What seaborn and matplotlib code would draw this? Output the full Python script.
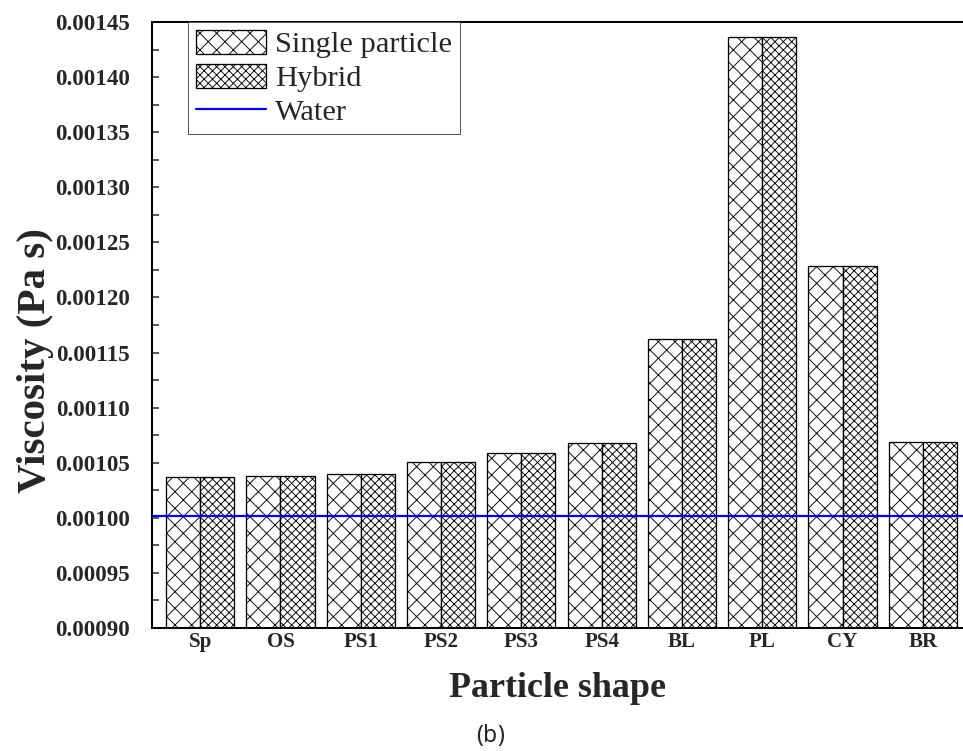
import matplotlib
matplotlib.use("Agg")
import matplotlib.pyplot as plt
from matplotlib.patches import Patch
from matplotlib.lines import Line2D
from matplotlib.ticker import MultipleLocator, FormatStrFormatter
from matplotlib.offsetbox import TextArea, HPacker, AnnotationBbox
import seaborn as sns
import pandas as pd

# Particle shapes and nanofluid viscosity (Pa s)
shapes = ["Sp", "OS", "PS1", "PS2", "PS3", "PS4", "BL", "PL", "CY", "BR"]
single_particle = [0.001037, 0.001038, 0.001040, 0.001051, 0.001059,
                   0.001068, 0.001162, 0.001436, 0.001229, 0.001069]
hybrid = [0.001037, 0.001038, 0.001040, 0.001051, 0.001059,
          0.001068, 0.001162, 0.001436, 0.001229, 0.001069]
water = 0.001002
series = ["Single particle", "Hybrid"]

df = pd.DataFrame({
    "shape": shapes * 2,
    "viscosity": single_particle + hybrid,
    "type": [series[0]] * len(shapes) + [series[1]] * len(shapes),
})

DPI = 50


def px(v):
    """Convert a size in pixels to points at the figure dpi."""
    return v * 72 / DPI


sns.set_theme(style="white")
plt.rcParams["font.family"] = ["Liberation Serif", "DejaVu Serif"]
plt.rcParams["hatch.linewidth"] = px(0.9)
plt.rcParams["hatch.color"] = "#222222"

fig = plt.figure(figsize=(963 / DPI, 751 / DPI), dpi=DPI)
ax = fig.add_axes([152 / 963, 1 - 628 / 751, 811 / 963, 606 / 751])

sns.barplot(data=df, x="shape", y="viscosity", hue="type", order=shapes,
            hue_order=series, width=0.85, ax=ax, legend=False,
            palette=["white", "white"], edgecolor="black", linewidth=px(1.3),
            saturation=1)

hatches = ["x", "xx"]
for cont, h in zip(ax.containers, hatches):
    for bar in cont:
        bar.set_hatch(h)
        bar.set_facecolor("white")
        bar.set_edgecolor("black")

ax.axhline(water, color="#0000ff", lw=px(2.2), zorder=5)

ax.set_ylim(0.00090, 0.00145)
ax.set_xlim(-0.6, 9.5)
ax.yaxis.set_major_locator(MultipleLocator(0.00005))
ax.yaxis.set_minor_locator(MultipleLocator(0.000025))
ax.yaxis.set_major_formatter(FormatStrFormatter("%.5f"))
ax.tick_params(axis="y", which="both", direction="in", length=px(7),
               width=px(1.5), left=True, labelsize=px(23), pad=px(22))
ax.tick_params(axis="x", length=0, labelsize=px(21), pad=px(4))
for lab in ax.get_xticklabels() + ax.get_yticklabels():
    lab.set_fontweight("bold")

ax.set_xlabel("Particle shape", fontsize=px(36), fontweight="bold",
              labelpad=px(20))
ax.set_ylabel("Viscosity (Pa s)", fontsize=px(41), fontweight="bold")
ax.yaxis.set_label_coords(-0.121, 0.442)

for side in ["left", "bottom", "top"]:
    ax.spines[side].set_visible(True)
    ax.spines[side].set_color("black")
    ax.spines[side].set_linewidth(px(2))
ax.spines["right"].set_visible(False)

handles = [
    Patch(facecolor="white", edgecolor="black", hatch="x", lw=px(1.3)),
    Patch(facecolor="white", edgecolor="black", hatch="xx", lw=px(1.3)),
    Line2D([0], [0], color="#0000ff", lw=px(2.2)),
]
leg = ax.legend(handles, ["Single particle", "Hybrid", "Water"],
                loc="upper left", bbox_to_anchor=(36 / 811, 1.0),
                fontsize=px(30.5), frameon=True, fancybox=False, framealpha=1,
                handlelength=2.3, handleheight=0.85, labelspacing=0.17,
                handletextpad=0.3, borderpad=0.25, borderaxespad=0)
leg.get_frame().set_edgecolor("#555555")
leg.get_frame().set_linewidth(px(1.0))

# Panel caption "(b)" with a bold letter
cap_font = ["Noto Sans", "DejaVu Sans"]
parts = [
    TextArea("(", textprops=dict(fontsize=px(23), family=cap_font)),
    TextArea("b", textprops=dict(fontsize=px(23), family=cap_font,
                                 fontweight="bold")),
    TextArea(")", textprops=dict(fontsize=px(23), family=cap_font)),
]
caption = HPacker(children=parts, sep=0, pad=0, align="baseline")
fig.add_artist(AnnotationBbox(caption, (490 / 963, 1 - 736 / 751),
                              xycoords="figure fraction", frameon=False,
                              box_alignment=(0.5, 0.5)))

fig.savefig("out.png", dpi=DPI)
